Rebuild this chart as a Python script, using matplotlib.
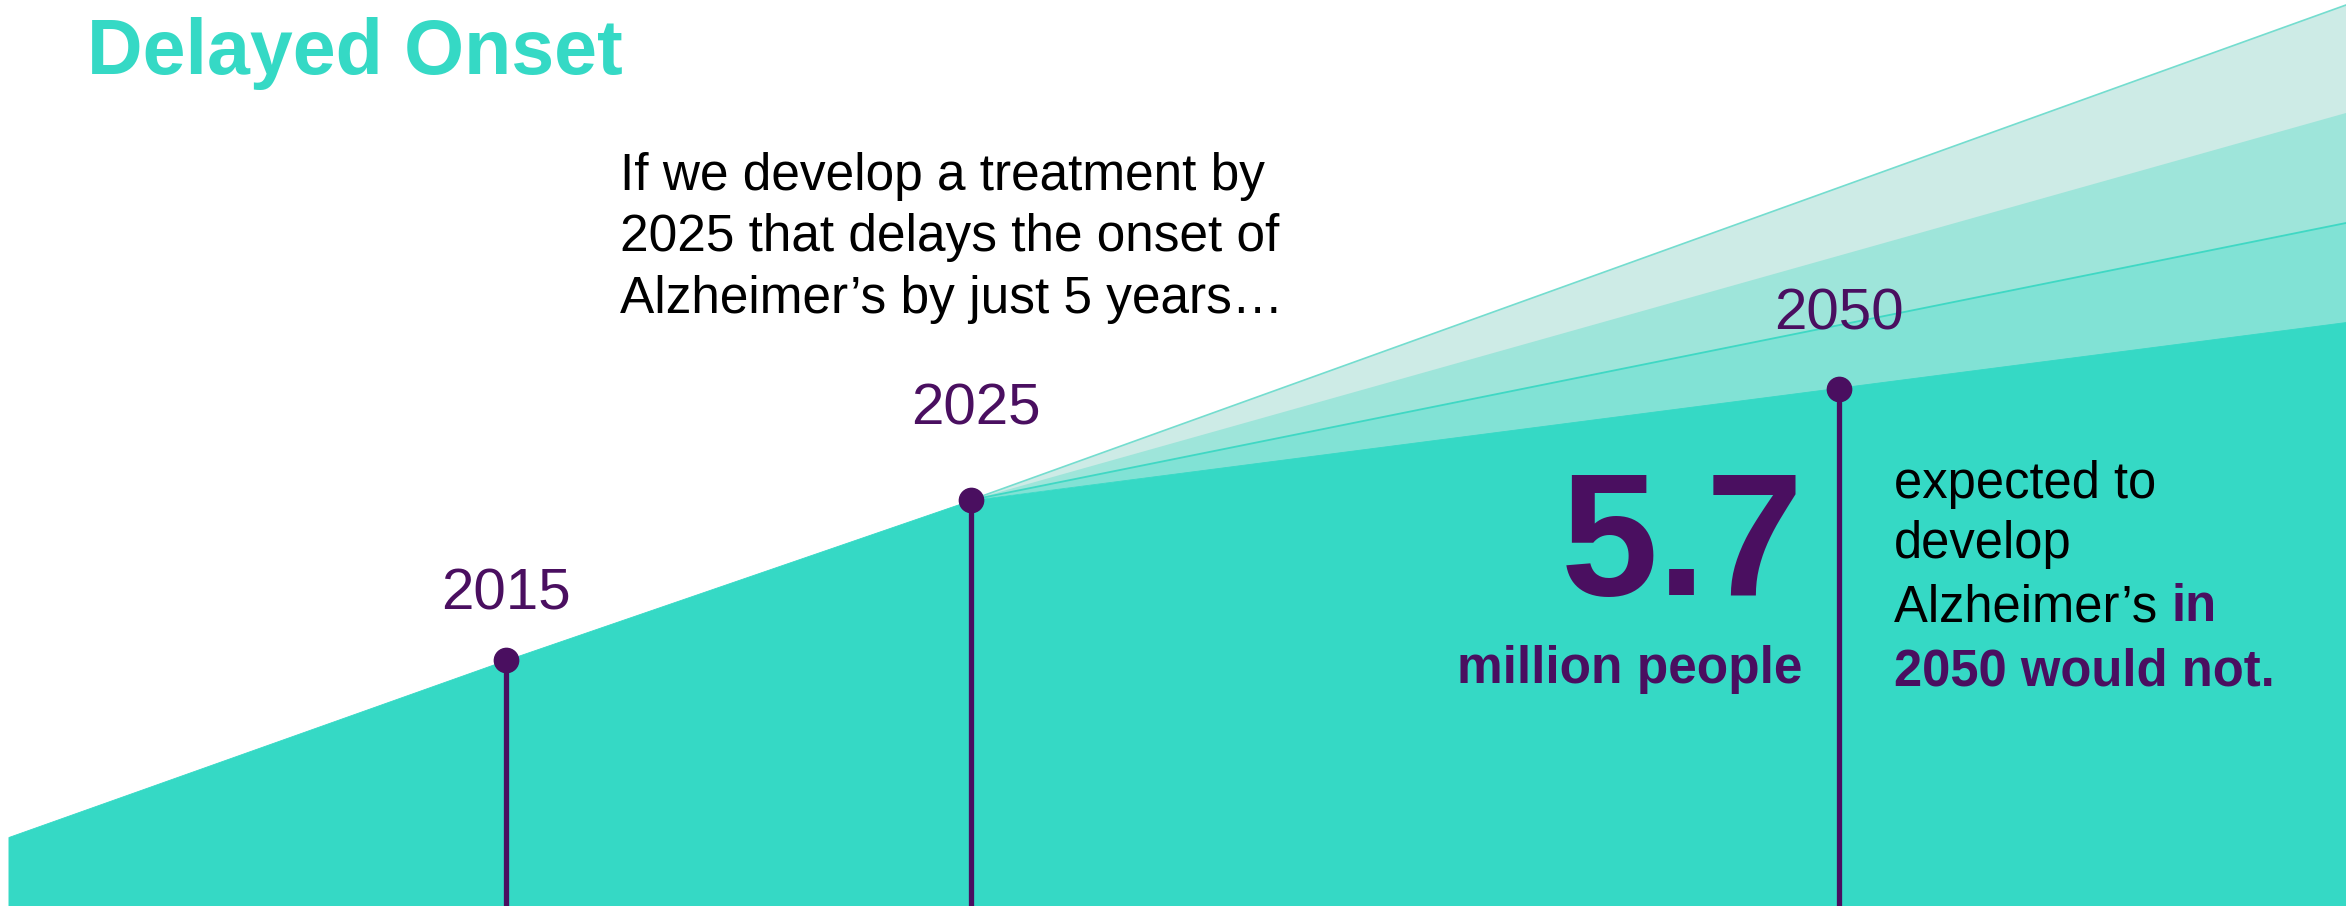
import numpy as np
import matplotlib
matplotlib.use("Agg")
import matplotlib.pyplot as plt

plt.rcParams['font.family'] = ['Liberation Sans', 'DejaVu Sans']

# data (height units = 100 px of the original)
years = [2015, 2025, 2050]
year_labels = ["2015", "2025", "2050"]
marker_values = [2.46, 4.06, 5.17]

base_years = [2004.3, 2015, 2025]
base_values = [0.69, 2.46, 4.06]

fan_end_year = 2065
# top to bottom: no delay ... 5-year delay
fan_end_values = [9.01, 7.93, 6.83, 5.84]

title = "Delayed Onset"
intro_lines = ["If we develop a treatment by",
               "2025 that delays the onset of",
               "Alzheimer\u2019s by just 5 years\u2026"]
big_number = "5.7"
big_unit = "million people"
right_lines = ["expected to", "develop", "Alzheimer\u2019s "]
right_bold_1 = "in"
right_bold_2 = "2050 would not."

teal = "#35D9C5"
fan_colors = ["#CDEBE6", "#9EE5DA", "#81E2D5"]
purple = "#4A0F60"

W, H = 2346, 906

# timeline is not linear in years: 2015-2025 is wider than 2025-2050
scale_years = [1900, 2025, 2050, 2200]
scale_units = [971 - 125 * 46.5, 971, 1839, 1839 + 150 * 33.8]


def fwd(x):
    return np.interp(x, scale_years, scale_units)


def inv(u):
    return np.interp(u, scale_units, scale_years)


fig = plt.figure(figsize=(W / 100, H / 100), dpi=100)
ax = fig.add_axes([0, 0, 1, 1])
ax.set_xscale('function', functions=(fwd, inv))
ax.set_xlim(inv(0), inv(W))
ax.set_ylim(0, H / 100)
ax.axis('off')

# fan of scenarios after 2025 (each band laid down to the bottom line, no gaps)
start_x, start_y = base_years[-1], base_values[-1]
for i, c in enumerate(fan_colors):
    ax.fill([start_x, fan_end_year, fan_end_year],
            [start_y, fan_end_values[i], fan_end_values[-1] - 0.05],
            color=c, lw=0, zorder=1 + i * 0.1)
ax.plot([start_x, fan_end_year], [start_y, fan_end_values[0]],
        color="#74DDCF", lw=1.2, zorder=2)
ax.plot([start_x, fan_end_year], [start_y, fan_end_values[2]],
        color="#3FD8C4", lw=1.3, zorder=2)

# solid area (with delayed onset)
xs = base_years + [fan_end_year]
ys = base_values + [fan_end_values[-1]]
ax.fill_between(xs, 0, ys, color=teal, lw=0.6, ec=teal, zorder=3)

# markers and stems
label_offsets = [(0, 51), (5, 76), (0, 59)]
for yr, v, lab, off in zip(years, marker_values, year_labels, label_offsets):
    ax.plot([yr, yr], [0, v], color=purple, lw=3.8, zorder=4,
            solid_capstyle='butt')
    ax.plot(yr, v, 'o', color=purple, ms=17.5, mec=purple, zorder=5)
    ax.annotate(lab, (yr, v), xytext=off, textcoords='offset pixels',
                ha='center', va='baseline', fontsize=42, color=purple,
                zorder=6)


def px(x, y):
    return x / W, 1 - y / H


fig.text(*px(87, 74), title, fontsize=55.5, fontweight='bold', color=teal,
         va='baseline')

for i, line in enumerate(intro_lines):
    fig.text(*px(620, 190 + i * 61.5), line, fontsize=37, color='black',
             va='baseline')

fig.text(*px(1804, 595), big_number, fontsize=126, fontweight='bold',
         color=purple, ha='right', va='baseline')
fig.text(*px(1802, 683), big_unit, fontsize=37, fontweight='bold',
         color=purple, ha='right', va='baseline')

baselines = [498, 558, 621, 685]
for i, line in enumerate(right_lines):
    t = fig.text(*px(1894, baselines[i]), line, fontsize=36.5, color='black',
                 va='baseline')
renderer = fig.canvas.get_renderer()
bb = t.get_window_extent(renderer)
fig.text(bb.x1 / W, 1 - baselines[2] / H, right_bold_1, fontsize=36.5,
         fontweight='bold', color=purple, va='baseline')
fig.text(*px(1894, baselines[3]), right_bold_2, fontsize=36.5,
         fontweight='bold', color=purple, va='baseline')

fig.savefig("out.png", dpi=100)
